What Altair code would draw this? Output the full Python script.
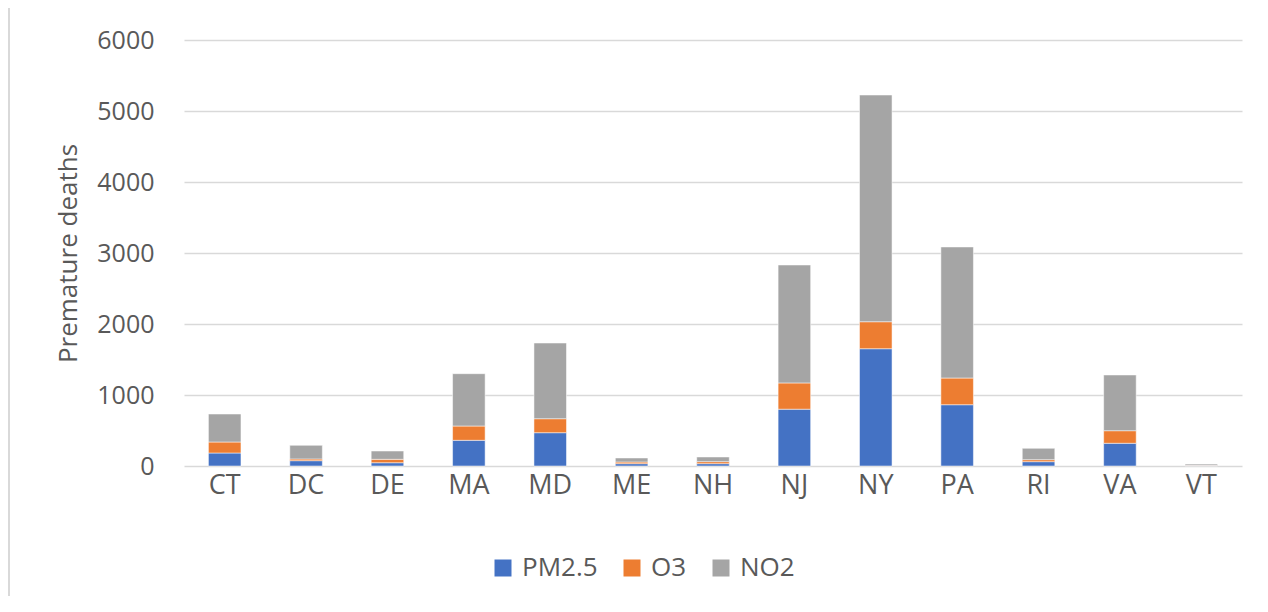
import altair as alt
import pandas as pd

states = ["CT", "DC", "DE", "MA", "MD", "ME", "NH", "NJ", "NY", "PA", "RI", "VA", "VT"]
pm25 = [183, 75, 46, 362, 469, 33, 33, 800, 1652, 863, 61, 320, 8]
o3 = [155, 24, 48, 201, 197, 23, 28, 370, 380, 376, 28, 177, 4]
no2 = [394, 192, 117, 737, 1066, 57, 66, 1661, 3193, 1846, 160, 785, 16]
pollutants = ["PM2.5", "O3", "NO2"]
colors = ["#4472C4", "#ED7D31", "#A5A5A5"]

rows = []
for i, s in enumerate(states):
    for k, (name, vals) in enumerate(zip(pollutants, [pm25, o3, no2])):
        rows.append({"state": s, "pollutant": name, "deaths": vals[i], "order": k})
df = pd.DataFrame(rows)

FONT = "Open Sans"

bars = alt.Chart(df).mark_bar(stroke="#ffffff", strokeWidth=1, strokeOpacity=0.5).encode(
    x=alt.X("state:N", sort=states, title=None,
            scale=alt.Scale(paddingInner=0.6, paddingOuter=0.3),
            axis=alt.Axis(labelAngle=0, labelFontSize=27, labelColor="#595959",
                          labelFont=FONT, ticks=False, domain=False, labelPadding=6)),
    y=alt.Y("deaths:Q", stack="zero", title="Premature deaths",
            scale=alt.Scale(domain=[0, 6000], nice=False),
            axis=alt.Axis(values=[0, 1000, 2000, 3000, 4000, 5000, 6000], format="d",
                          labelFontSize=25,
                          labelColor="#595959", labelFont=FONT, ticks=False, domain=False,
                          gridColor="#d9d9d9", gridWidth=1.5, labelPadding=30,
                          titleFontSize=26, titleFont=FONT, titleColor="#595959",
                          titleFontWeight="normal", titlePadding=15)),
    color=alt.Color("pollutant:N", scale=alt.Scale(domain=pollutants, range=colors),
                    legend=alt.Legend(title=None, orient="none", legendX=306, legendY=515,
                                      direction="horizontal", symbolType="square",
                                      symbolSize=289, symbolStrokeWidth=0,
                                      labelFontSize=26, labelFont=FONT, labelColor="#595959",
                                      columnPadding=21, labelOffset=6)),
    order=alt.Order("order:Q", sort="ascending"),
)

frame_v = alt.Chart(df).mark_rule(color="#d9d9d9", strokeWidth=1.5).encode(
    x=alt.value(-175), y=alt.value(-34), y2=alt.value(570))
frame_h = alt.Chart(df).mark_rule(color="#d9d9d9", strokeWidth=1.5).encode(
    x=alt.value(-175), x2=alt.value(1090), y=alt.value(-34))

chart = alt.layer(bars, frame_v, frame_h).properties(
    width=1058, height=426,
    autosize=alt.AutoSizeParams(type="none"),
    padding={"left": 176, "top": 32, "right": 18, "bottom": 130},
).configure_view(stroke=None)

chart.save("out.html", embed_options={"renderer": "svg", "actions": False})
